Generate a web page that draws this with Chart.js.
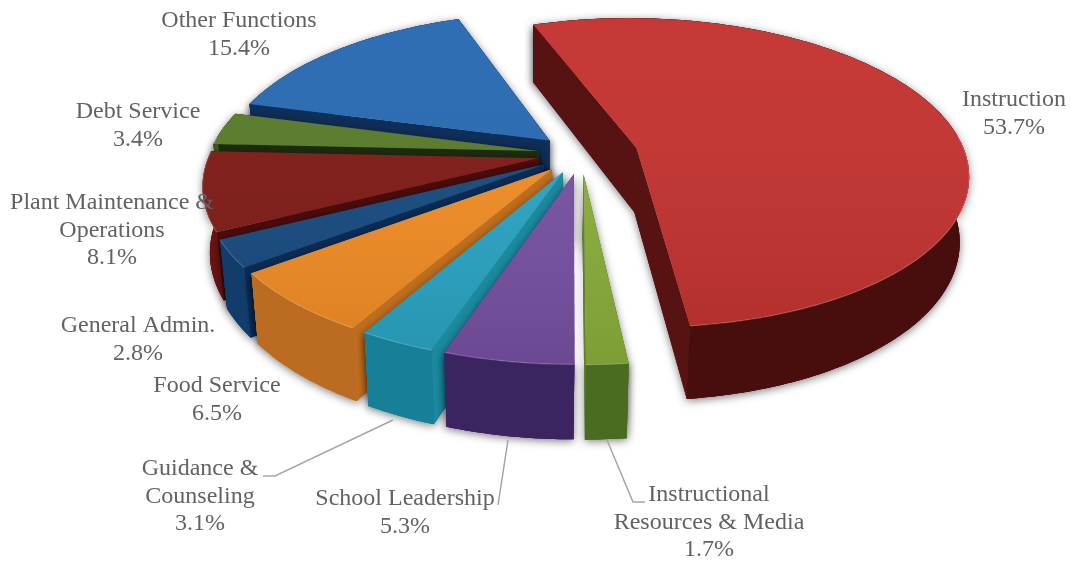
<!DOCTYPE html>
<html>
<head>
<meta charset="utf-8">
<title>Expenditures by Function</title>
<script src="https://cdn.jsdelivr.net/npm/chart.js@4"></script>
<style>
    html, body { margin: 0; padding: 0; background: #fff; }
    canvas { display: block; }
</style>
</head>
<body>
<canvas id="functionPie" width="1071" height="562"></canvas>
<script>
// Slice names and shares, clockwise from the large slice
const categories = ['Instruction', 'Instructional Resources & Media', 'School Leadership', 'Guidance & Counseling',
    'Food Service', 'General Admin.', 'Plant Maintenance & Operations', 'Debt Service', 'Other Functions'];
const shares = [53.7, 1.7, 5.3, 3.1, 6.5, 2.8, 8.1, 3.4, 15.4];

// Colours for the top face, the rim and the cut faces of each slice
const topColors = ['#C4322F', '#8CB03C', '#7852A4', '#2AA6C6', '#F48E25', '#174A80', '#801A16', '#587A29', '#2869B2'];
const rimColors = ['#470E0D', '#4A6B22', '#3B2560', '#177F98', '#BC6C20', '#113C6C', '#691311', '#3F571C', '#143E74'];
const cutColors = ['#561311', '#5F8228', '#4A2F78', '#1B8AA0', '#BE6E1F', '#0C2C55', '#4A0C0C', '#1D2C10', '#0F2E58'];

// Label text per slice, one entry per line above the percentage
const labelLines = [['Instruction'], ['Instructional', 'Resources & Media'], ['School Leadership'], ['Guidance &', 'Counseling'],
    ['Food Service'], ['General Admin.'], ['Plant Maintenance &', 'Operations'], ['Debt Service'], ['Other Functions']];
const labelAnchors = [[1014, 100], [709, 495], [405, 499], [200, 469], [217, 386], [138, 326], [112, 203], [138, 112], [239, 21]];
const leaderLines = [
    [[263, 476], [275, 476], [393, 420]],
    [[498, 505], [508, 440]],
    [[645, 502], [633, 502], [607, 440]]
];

// Camera for the tilted disc
const view = { cx: 581, cy: 154, ax: 329, ay: 152.5, persp: 0.16, vanishX: 540, shrink: 0.978 };

function project(x, y) {
    const w = 1 - view.persp * y;
    return { x: view.cx + view.ax * x / w, y: view.cy + view.ay * y / w };
}

// Lower edge of the disc under a point on the top face
function dropped(p) {
    return {
        x: view.vanishX + (p.x - view.vanishX) * view.shrink,
        y: p.y + 58 + 0.05 * (p.y - 25)
    };
}

function tracePath(ctx, pts) {
    ctx.beginPath();
    pts.forEach((p, i) => (i ? ctx.lineTo(p.x, p.y) : ctx.moveTo(p.x, p.y)));
    ctx.closePath();
}

function wallOf(edge) {
    return edge.concat(edge.map(dropped).reverse());
}

function sliceGeometry(arc) {
    const r = arc.outerRadius;
    const mid = (arc.startAngle + arc.endAngle) / 2;
    const shift = (arc.options.offset || 0) / r;
    const ox = shift * Math.cos(mid);
    const oy = shift * Math.sin(mid);
    const apex = project(ox, oy);
    const rim = [];
    const front = [];
    const steps = Math.max(4, Math.ceil((arc.endAngle - arc.startAngle) * 60));
    for (let i = 0; i <= steps; i++) {
        const a = arc.startAngle + (arc.endAngle - arc.startAngle) * i / steps;
        const p = project(ox + Math.cos(a), oy + Math.sin(a));
        rim.push(p);
        if (Math.sin(a) > -0.1) front.push(p);
    }
    return { apex, rim, front };
}

const tiltedPie = {
    id: 'tiltedPie',
    beforeDatasetsDraw(chart) {
        const ctx = chart.ctx;
        const arcs = chart.getDatasetMeta(0).data;

        // back slices first so the front ones overlap them
        const order = arcs.map((arc, i) => i)
            .sort((a, b) => Math.sin((arcs[a].startAngle + arcs[a].endAngle) / 2) - Math.sin((arcs[b].startAngle + arcs[b].endAngle) / 2));

        const sheen = ctx.createLinearGradient(0, 18, 0, 365);
        sheen.addColorStop(0, 'rgba(255,255,255,0.03)');
        sheen.addColorStop(1, 'rgba(0,0,0,0.11)');

        order.forEach(i => {
            const { apex, rim, front } = sliceGeometry(arcs[i]);
            const cutA = wallOf([apex, rim[0]]);
            const cutB = wallOf([apex, rim[rim.length - 1]]);

            // soft shadow under the whole slice
            ctx.save();
            ctx.shadowColor = 'rgba(0,0,0,0.5)';
            ctx.shadowBlur = 9;
            ctx.shadowOffsetY = 2;
            ctx.fillStyle = rimColors[i];
            [wallOf(rim), cutA, cutB].forEach(w => {
                tracePath(ctx, w);
                ctx.fill();
            });
            ctx.restore();

            ctx.fillStyle = rimColors[i];
            tracePath(ctx, wallOf(rim));
            ctx.fill();

            ctx.fillStyle = cutColors[i];
            tracePath(ctx, cutA);
            ctx.fill();
            tracePath(ctx, cutB);
            ctx.fill();

            if (front.length > 1) {
                ctx.fillStyle = rimColors[i];
                tracePath(ctx, wallOf(front));
                ctx.fill();
            }

            const face = [apex].concat(rim);
            ctx.fillStyle = arcs[i].options.backgroundColor;
            tracePath(ctx, face);
            ctx.fill();
            ctx.fillStyle = sheen;
            tracePath(ctx, face);
            ctx.fill();

            // thin highlight along the front of the rim
            if (front.length > 1) {
                ctx.strokeStyle = 'rgba(255,255,255,0.2)';
                ctx.lineWidth = 1.2;
                ctx.beginPath();
                front.forEach((p, k) => (k ? ctx.lineTo(p.x, p.y) : ctx.moveTo(p.x, p.y)));
                ctx.stroke();
            }
        });
        return false;
    },
    afterDraw(chart) {
        const ctx = chart.ctx;
        ctx.save();
        ctx.strokeStyle = '#A6A6A6';
        ctx.lineWidth = 1.5;
        leaderLines.forEach(line => {
            ctx.beginPath();
            line.forEach(([x, y], k) => (k ? ctx.lineTo(x, y) : ctx.moveTo(x, y)));
            ctx.stroke();
        });

        ctx.fillStyle = '#626262';
        ctx.font = '24px "Liberation Serif"';
        ctx.textAlign = 'center';
        ctx.textBaseline = 'middle';
        labelLines.forEach((lines, i) => {
            const [x, y] = labelAnchors[i];
            lines.concat(shares[i].toFixed(1) + '%').forEach((text, k) => {
                ctx.fillText(text, x, y + k * 27.3);
            });
        });
        ctx.restore();
    }
};

const explosion = [45, 34, 34, 34, 34, 34, 34, 34, 34];

new Chart(document.getElementById('functionPie').getContext('2d'), {
    type: 'pie',
    data: {
        labels: categories,
        datasets: [{
            data: shares,
            backgroundColor: topColors,
            borderWidth: 0,
            offset: explosion
        }]
    },
    options: {
        responsive: false,
        animation: false,
        rotation: -19.7,
        plugins: {
            legend: { display: false },
            tooltip: { enabled: false }
        }
    },
    plugins: [tiltedPie]
});
</script>
</body>
</html>
